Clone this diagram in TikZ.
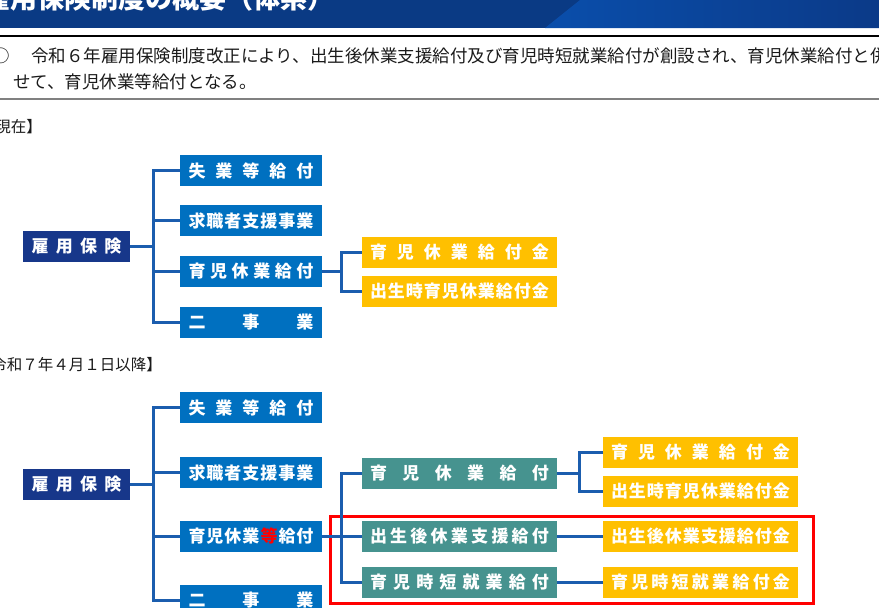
\documentclass[tikz,border=0pt]{standalone}
\usepackage{fontspec}
\newfontfamily\jp{Noto Sans CJK JP}
\definecolor{boxblue}{HTML}{0070C0}
\definecolor{navyc}{HTML}{17378A}
\definecolor{tealc}{HTML}{46938F}
\definecolor{goldc}{HTML}{FFC000}
\definecolor{linec}{HTML}{1B5DAE}
\definecolor{textc}{HTML}{1A1A1A}
\definecolor{bandark}{HTML}{0A3A84}
\definecolor{banlight}{HTML}{0A4EAB}
\definecolor{banright}{HTML}{0B3A88}
\definecolor{redc}{HTML}{FF0000}
\definecolor{grayline}{HTML}{808080}
\begin{document}
\begin{tikzpicture}[x=1pt,y=-1pt,
  nodebox/.style={inner sep=0pt, minimum height=31pt, text=white,
    font=\jp\bfseries\fontsize{17pt}{20pt}\selectfont},
  bluebox/.style={nodebox, fill=boxblue, minimum width=142pt},
  navybox/.style={nodebox, fill=navyc, minimum width=107pt},
  tealbox/.style={nodebox, fill=tealc, minimum width=195pt},
  goldbox/.style={nodebox, fill=goldc, minimum width=195pt},
  conn/.style={draw=linec, line width=2.8pt},
  redframe/.style={draw=redc, line width=3pt},
  bodytext/.style={inner sep=0pt, text=textc, anchor=west,
    font=\jp\fontsize{17.5pt}{20pt}\selectfont},
  sectlabel/.style={inner sep=0pt, text=textc, anchor=east,
    font=\jp\fontsize{15.5pt}{18pt}\selectfont}
]
\useasboundingbox (0,0) rectangle (879,608);
\clip (0,0) rectangle (879,608);

% banner
\fill[bandark] (0,0) rectangle (879,28);
\shade[left color=banlight, right color=banright] (545,28) -- (580,0) -- (879,0) -- (879,28) -- cycle;
\node[anchor=base west, inner sep=0pt, text=white,
  font=\jp\bfseries\fontsize{27pt}{27pt}\selectfont] (title) at (-17,8) {雇用保険制度の概要（体系）};

% text box
\draw[black, line width=2pt] (0,35.5) -- (879,35.5);
\draw[grayline, line width=2pt] (0,98.5) -- (879,98.5);
\node[bodytext, anchor=center] (circ) at (1,55.5) {○};
\node[bodytext] (line1) at (31,55.5) {令和６年雇用保険制度改正により、出生後休業支援給付及び育児時短就業給付が創設され、育児休業給付と併};
\node[bodytext] (line2) at (13,81.5) {せて、育児休業等給付となる。};

% section labels
\node[sectlabel] (lab1) at (42,127) {【現在】};
\node[sectlabel] (lab2) at (162,365) {【令和７年４月１日以降】};

% red frame
\draw[redframe] (330,516) rectangle (813,603);

% ---- top diagram
\node[navybox] (k1) at (76.5,246.5) {\makebox[90pt][s]{雇\hfill 用\hfill 保\hfill 険}};
\node[bluebox] (a1) at (251,170.5) {\makebox[125pt][s]{失\hfill 業\hfill 等\hfill 給\hfill 付}};
\node[bluebox] (b1) at (251,220.5) {\makebox[125pt][s]{求\hfill 職\hfill 者\hfill 支\hfill 援\hfill 事\hfill 業}};
\node[bluebox] (c1) at (251,271.5) {\makebox[125pt][s]{育\hfill 児\hfill 休\hfill 業\hfill 給\hfill 付}};
\node[bluebox] (d1) at (251,322.5) {\makebox[125pt][s]{二\hfill 事\hfill 業}};
\node[goldbox] (y1) at (459.5,252.5) {\makebox[179pt][s]{育\hfill 児\hfill 休\hfill 業\hfill 給\hfill 付\hfill 金}};
\node[goldbox] (y2) at (459.5,291.5) {\makebox[179pt][s]{出\hfill 生\hfill 時\hfill 育\hfill 児\hfill 休\hfill 業\hfill 給\hfill 付\hfill 金}};

\draw[conn] (a1.west) -- ++(-26,0) |- (k1.east);
\draw[conn] (b1.west) -- ++(-26,0) |- (k1.east);
\draw[conn] (c1.west) -- ++(-26,0) |- (k1.east);
\draw[conn] (d1.west) -- ++(-26,0) |- (k1.east);
\draw[conn] (y1.west) -- ++(-20,0) |- (c1.east);
\draw[conn] (y2.west) -- ++(-20,0) |- (c1.east);

% ---- bottom diagram
\node[navybox] (k2) at (76.5,484.5) {\makebox[90pt][s]{雇\hfill 用\hfill 保\hfill 険}};
\node[bluebox] (a2) at (251,407.5) {\makebox[125pt][s]{失\hfill 業\hfill 等\hfill 給\hfill 付}};
\node[bluebox] (b2) at (251,472.5) {\makebox[125pt][s]{求\hfill 職\hfill 者\hfill 支\hfill 援\hfill 事\hfill 業}};
\node[bluebox] (c2) at (251,536.5) {\makebox[125pt][s]{育\hfill 児\hfill 休\hfill 業\hfill \textcolor{redc}{等}\hfill 給\hfill 付}};
\node[bluebox] (d2) at (251,600.5) {\makebox[125pt][s]{二\hfill 事\hfill 業}};
\node[tealbox] (t1) at (459.5,473.5) {\makebox[179pt][s]{育\hfill 児\hfill 休\hfill 業\hfill 給\hfill 付}};
\node[tealbox] (t2) at (459.5,536.5) {\makebox[179pt][s]{出\hfill 生\hfill 後\hfill 休\hfill 業\hfill 支\hfill 援\hfill 給\hfill 付}};
\node[tealbox] (t3) at (459.5,582.5) {\makebox[179pt][s]{育\hfill 児\hfill 時\hfill 短\hfill 就\hfill 業\hfill 給\hfill 付}};
\node[goldbox] (g1) at (700.5,452.5) {\makebox[179pt][s]{育\hfill 児\hfill 休\hfill 業\hfill 給\hfill 付\hfill 金}};
\node[goldbox] (g2) at (700.5,491.5) {\makebox[179pt][s]{出\hfill 生\hfill 時\hfill 育\hfill 児\hfill 休\hfill 業\hfill 給\hfill 付\hfill 金}};
\node[goldbox] (g3) at (700.5,536.5) {\makebox[179pt][s]{出\hfill 生\hfill 後\hfill 休\hfill 業\hfill 支\hfill 援\hfill 給\hfill 付\hfill 金}};
\node[goldbox] (g4) at (700.5,582.5) {\makebox[179pt][s]{育\hfill 児\hfill 時\hfill 短\hfill 就\hfill 業\hfill 給\hfill 付\hfill 金}};

\draw[conn] (a2.west) -- ++(-26,0) |- (k2.east);
\draw[conn] (b2.west) -- ++(-26,0) |- (k2.east);
\draw[conn] (c2.west) -- ++(-26,0) |- (k2.east);
\draw[conn] (d2.west) -- ++(-26,0) |- (k2.east);
\draw[conn] (t1.west) -- ++(-20,0) |- (c2.east);
\draw[conn] (t3.west) -- ++(-20,0) |- (c2.east);
\draw[conn] (c2.east) -- (t2.west);
\draw[conn] (g1.west) -- ++(-23,0) |- (t1.east);
\draw[conn] (g2.west) -- ++(-23,0) |- (t1.east);
\draw[conn] (t2.east) -- (g3.west);
\draw[conn] (t3.east) -- (g4.west);
\end{tikzpicture}
\end{document}
